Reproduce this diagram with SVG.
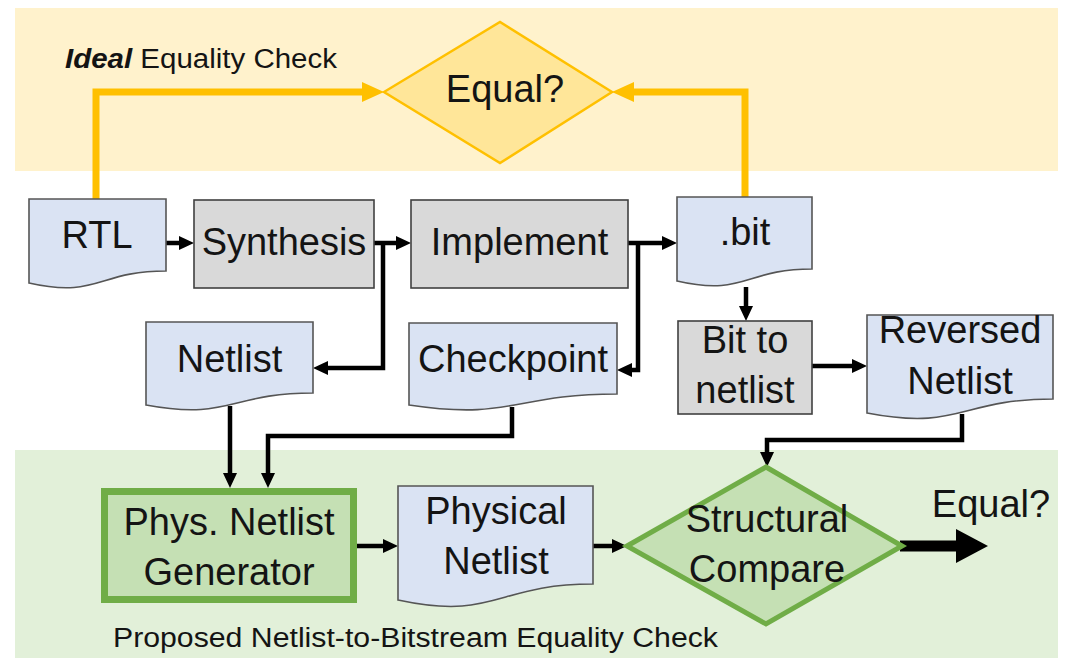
<svg xmlns="http://www.w3.org/2000/svg" width="1065" height="658" viewBox="0 0 1065 658">
  <style>
    .lbl { font-family: "Liberation Sans", Arial, sans-serif; font-size: 38px; fill: #141414; text-anchor: middle; }
    .cap { font-family: "Liberation Sans", Arial, sans-serif; font-size: 27px; fill: #141414; }
    .doc { fill: #DAE3F3; stroke: #555555; stroke-width: 1.6; }
    .proc { fill: #D9D9D9; stroke: #404040; stroke-width: 1.6; }
    .wire { fill: none; stroke: #000000; stroke-width: 4.5; marker-end: url(#head); }
    .gold { fill: none; stroke: #FFC000; stroke-width: 7; marker-end: url(#goldHead); }
  </style>
  <defs>
    <marker id="head" markerUnits="userSpaceOnUse" markerWidth="16" markerHeight="16" refX="1" refY="7" orient="auto">
      <path d="M0,0 L15,7 L0,14 Z" fill="#000000"/>
    </marker>
    <marker id="goldHead" markerUnits="userSpaceOnUse" markerWidth="24" markerHeight="22" refX="1" refY="10" orient="auto">
      <path d="M0,0 L22,10 L0,20 Z" fill="#FFC000"/>
    </marker>
  </defs>

  <!-- background bands -->
  <rect id="ideal-band" x="15" y="8" width="1043" height="163" fill="#FFF2CC"/>
  <rect id="proposed-band" x="15" y="450" width="1043" height="208" fill="#E2F0D9"/>
  <text class="cap" x="65" y="68" font-size="28" textLength="272" lengthAdjust="spacingAndGlyphs"><tspan font-weight="bold" font-style="italic">Ideal</tspan> Equality Check</text>
  <text class="cap" x="113" y="647" textLength="605" lengthAdjust="spacingAndGlyphs">Proposed Netlist-to-Bitstream Equality Check</text>

  <!-- connectors -->
  <g id="connectors">
    <path class="gold" d="M96,199 V92 H363"/>
    <path class="gold" d="M745,197 V92 H633"/>
    <path class="wire" d="M166,243 H180"/>
    <path class="wire" d="M374,243 H397"/>
    <path class="wire" d="M383,243 V368 H327"/>
    <path class="wire" d="M628,243 H663"/>
    <path class="wire" d="M638,243 V370 H631"/>
    <path class="wire" d="M746,287 V307"/>
    <path class="wire" d="M812,366 H853"/>
    <path class="wire" d="M962,414 V440 H767 V453"/>
    <path class="wire" d="M230,406 V474"/>
    <path class="wire" d="M512,407 V436 H268 V474"/>
    <path class="wire" d="M357,546 H384"/>
    <path class="wire" d="M593,546 H613"/>
    <path d="M900,540.5 H956 V529 L988,546 L956,563 V551.5 H900 Z" fill="#000000"/>
  </g>

  <!-- top decision -->
  <g id="equal-ideal">
    <polygon points="384,92 500,22 612,92 500,163" fill="#FFE699" stroke="#FFC000" stroke-width="2.5"/>
    <text class="lbl" x="505" y="102">Equal?</text>
  </g>

  <!-- flow row -->
  <g id="rtl">
    <path class="doc" d="M29,199 H166 V271 C97.5,271 97.5,298.7 29,283 Z"/>
    <text class="lbl" x="97" y="248">RTL</text>
  </g>
  <g id="synthesis">
    <rect class="proc" x="194" y="200" width="180" height="88"/>
    <text class="lbl" x="284" y="255">Synthesis</text>
  </g>
  <g id="implement">
    <rect class="proc" x="411" y="200" width="217" height="88"/>
    <text class="lbl" x="519.5" y="255">Implement</text>
  </g>
  <g id="bitfile">
    <path class="doc" d="M677,197 H812 V269 C744.5,269 744.5,296.7 677,281 Z"/>
    <text class="lbl" x="745" y="245">.bit</text>
  </g>
  <g id="netlist">
    <path class="doc" d="M146,322 H313 V393 C229.5,393 229.5,420.6 146,405 Z"/>
    <text class="lbl" x="229.5" y="372">Netlist</text>
  </g>
  <g id="checkpoint">
    <path class="doc" d="M409,323 H617 V394 C513,394 513,420.5 409,405 Z"/>
    <text class="lbl" x="513" y="372">Checkpoint</text>
  </g>
  <g id="bit-to-netlist">
    <rect class="proc" x="678" y="321" width="134" height="93"/>
    <text class="lbl" x="745" y="353">Bit to</text>
    <text class="lbl" x="745" y="403">netlist</text>
  </g>
  <g id="reversed-netlist">
    <path class="doc" d="M867,315 H1053 V399 C960,399 960,431 867,413 Z"/>
    <text class="lbl" x="960" y="343">Reversed</text>
    <text class="lbl" x="960" y="394">Netlist</text>
  </g>

  <!-- proposed check -->
  <g id="phys-netlist-generator">
    <rect x="104.5" y="491.5" width="249" height="108" fill="#C5E0B4" stroke="#70AD47" stroke-width="7"/>
    <text class="lbl" x="229" y="535">Phys. Netlist</text>
    <text class="lbl" x="229" y="585">Generator</text>
  </g>
  <g id="physical-netlist">
    <path class="doc" d="M398,486 H593 V584 C495.5,584 495.5,621 398,600 Z"/>
    <text class="lbl" x="496" y="524">Physical</text>
    <text class="lbl" x="496" y="574">Netlist</text>
  </g>
  <g id="structural-compare">
    <polygon points="627,546 766,467 902,546 766,624" fill="#C5E0B4" stroke="#70AD47" stroke-width="5"/>
    <text class="lbl" x="767" y="532">Structural</text>
    <text class="lbl" x="767" y="582">Compare</text>
  </g>
  <g id="equal-result">
    <text class="lbl" x="991" y="517" font-size="36">Equal?</text>
  </g>
</svg>
